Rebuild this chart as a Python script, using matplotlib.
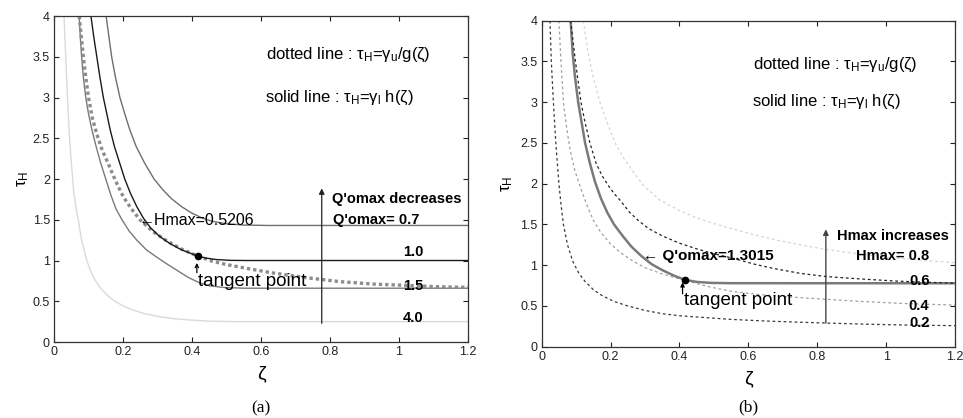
import matplotlib
matplotlib.use("Agg")
import matplotlib.pyplot as plt

plt.rcParams['font.family'] = ['Liberation Sans', 'DejaVu Sans']
plt.rcParams['mathtext.fontset'] = 'dejavusans'

# ---- panel (a): tau_H = gamma_l h(zeta) for several Q'omax, plus gamma_u/g(zeta)
q07_z = [0.151, 0.159, 0.167, 0.178, 0.191, 0.205, 0.22, 0.238, 0.262, 0.29, 0.315, 0.34,
         0.37, 0.4, 0.43, 0.46, 0.5, 0.55, 0.62, 1.2]
q07_t = [4.0, 3.75, 3.5, 3.25, 3.0, 2.8, 2.6, 2.4, 2.2, 2.0, 1.87, 1.76,
         1.66, 1.58, 1.52, 1.48, 1.45, 1.435, 1.43, 1.43]

q10_z = [0.107, 0.115, 0.124, 0.133, 0.143, 0.153, 0.163, 0.175, 0.19, 0.205, 0.222, 0.24,
         0.259, 0.28, 0.305, 0.335, 0.37, 0.395, 0.416, 0.44, 0.47, 0.51, 0.56, 1.2]
q10_t = [4.0, 3.75, 3.5, 3.25, 3.0, 2.8, 2.6, 2.4, 2.2, 2.0, 1.82, 1.66,
         1.52, 1.4, 1.3, 1.21, 1.13, 1.09, 1.055, 1.03, 1.012, 1.002, 1.0, 1.0]

q15_z = [0.073, 0.076, 0.08, 0.085, 0.092, 0.1, 0.11, 0.122, 0.135, 0.15, 0.165, 0.18,
         0.197, 0.218, 0.24, 0.268, 0.298, 0.33, 0.36, 0.39, 0.42, 0.45, 0.49, 0.55, 1.2]
q15_t = [4.0, 3.75, 3.5, 3.25, 3.0, 2.8, 2.6, 2.4, 2.2, 2.0, 1.8, 1.63,
         1.5, 1.36, 1.25, 1.13, 1.04, 0.95, 0.87, 0.79, 0.73, 0.69, 0.67, 0.66, 0.66]

q40_z = [0.029, 0.034, 0.039, 0.045, 0.052, 0.058, 0.07, 0.08, 0.095, 0.106, 0.119, 0.133,
         0.148, 0.163, 0.18, 0.205, 0.23, 0.265, 0.307, 0.35, 0.394, 0.45, 0.52, 1.2]
q40_t = [4.0, 3.5, 3.0, 2.5, 2.1, 1.8, 1.5, 1.25, 1.0, 0.87, 0.76, 0.67,
         0.6, 0.54, 0.49, 0.435, 0.39, 0.345, 0.31, 0.285, 0.27, 0.256, 0.25, 0.25]

gu_z = [0.073, 0.079, 0.085, 0.092, 0.1, 0.111, 0.124, 0.14, 0.157, 0.178, 0.201, 0.225,
        0.249, 0.285, 0.327, 0.37, 0.416, 0.46, 0.5, 0.55, 0.63, 0.73, 0.83, 0.93, 1.02, 1.1, 1.2]
gu_t = [4.0, 3.75, 3.5, 3.25, 3.0, 2.75, 2.55, 2.35, 2.19, 1.98, 1.78, 1.63,
        1.5, 1.36, 1.24, 1.14, 1.055, 0.99, 0.95, 0.91, 0.85, 0.79, 0.74, 0.71, 0.695, 0.68, 0.67]

tan_a = (0.416, 1.055)

# ---- panel (b): tau_H = gamma_u/g(zeta) for several Hmax, plus gamma_l h(zeta)
h02_z = [0.024, 0.028, 0.034, 0.041, 0.05, 0.056, 0.063, 0.075, 0.09, 0.108, 0.126, 0.15, 0.174,
         0.21, 0.25, 0.3, 0.35, 0.4, 0.465, 0.55, 0.65, 0.75, 0.827, 0.95, 1.07, 1.2]
h02_t = [4.0, 3.5, 3.0, 2.5, 2.0, 1.75, 1.5, 1.25, 1.05, 0.9, 0.8, 0.7, 0.63,
         0.555, 0.5, 0.445, 0.405, 0.38, 0.36, 0.335, 0.315, 0.3, 0.29, 0.275, 0.265, 0.258]

h04_z = [0.05, 0.056, 0.063, 0.072, 0.083, 0.097, 0.113, 0.13, 0.15, 0.172, 0.2, 0.23, 0.265,
         0.3, 0.345, 0.38, 0.416, 0.48, 0.55, 0.63, 0.735, 0.83, 0.93, 1.05, 1.2]
h04_t = [4.0, 3.5, 3.0, 2.7, 2.4, 2.15, 1.95, 1.75, 1.55, 1.4, 1.26, 1.15, 1.05,
         0.97, 0.9, 0.855, 0.815, 0.74, 0.68, 0.64, 0.606, 0.58, 0.555, 0.53, 0.51]

h06_z = [0.084, 0.098, 0.114, 0.126, 0.14, 0.158, 0.175, 0.193, 0.21, 0.227, 0.255, 0.28, 0.31,
         0.35, 0.4, 0.45, 0.5, 0.56, 0.62, 0.673, 0.75, 0.827, 0.93, 1.03, 1.12, 1.2]
h06_t = [4.0, 3.5, 3.0, 2.75, 2.5, 2.25, 2.1, 1.98, 1.88, 1.8, 1.65, 1.55, 1.45,
         1.36, 1.27, 1.2, 1.14, 1.08, 1.01, 0.96, 0.9, 0.86, 0.83, 0.805, 0.79, 0.78]

h08_z = [0.121, 0.135, 0.15, 0.169, 0.19, 0.213, 0.24, 0.265, 0.295, 0.343, 0.4, 0.45, 0.5,
         0.55, 0.62, 0.68, 0.75, 0.83, 0.92, 1.0, 1.1, 1.2]
h08_t = [4.0, 3.6, 3.3, 3.0, 2.75, 2.5, 2.3, 2.15, 1.98, 1.8, 1.67, 1.58, 1.51,
         1.45, 1.37, 1.31, 1.25, 1.19, 1.14, 1.1, 1.06, 1.03]

gl_z = [0.084, 0.09, 0.097, 0.106, 0.116, 0.126, 0.14, 0.155, 0.172, 0.19, 0.21, 0.235, 0.26,
        0.29, 0.32, 0.35, 0.385, 0.416, 0.45, 0.49, 0.55, 1.2]
gl_t = [4.0, 3.6, 3.3, 3.0, 2.75, 2.5, 2.25, 2.02, 1.82, 1.65, 1.5, 1.36, 1.23,
        1.11, 1.01, 0.94, 0.87, 0.82, 0.795, 0.783, 0.779, 0.778]

tan_b = (0.416, 0.82)

x_ticks = [0, 0.2, 0.4, 0.6, 0.8, 1.0, 1.2]
x_labels = ['0', '0.2', '0.4', '0.6', '0.8', '1', '1.2']
y_ticks = [0, 0.5, 1, 1.5, 2, 2.5, 3, 3.5, 4]
y_labels = ['0', '0.5', '1', '1.5', '2', '2.5', '3', '3.5', '4']

fig = plt.figure(figsize=(9.63, 4.18), dpi=100)
ax1 = fig.add_axes([0.0561, 0.1818, 0.4299, 0.7799])
ax2 = fig.add_axes([0.5625, 0.1706, 0.4292, 0.7799])


def frame(ax, tag, tag_y, ypad):
    ax.set_xlim(0, 1.2)
    ax.set_ylim(0, 4)
    ax.set_xticks(x_ticks)
    ax.set_xticklabels(x_labels)
    ax.set_yticks(y_ticks)
    ax.set_yticklabels(y_labels)
    ax.tick_params(direction='in', top=True, right=True, length=3.5, width=0.8,
                   labelsize=9, pad=3, colors='#222222')
    for s in ax.spines.values():
        s.set_linewidth(0.9)
        s.set_color('#333333')
    ax.set_xlabel('ζ', fontsize=14, labelpad=5)
    ax.set_ylabel(r'$\mathregular{τ_H}$', fontsize=12, labelpad=ypad)
    ax.text(0.5, tag_y, tag, transform=ax.transAxes, ha='center', va='center',
            fontsize=12.5, family='Liberation Serif')


# panel (a)
frame(ax1, '(a)', -0.205, 1)
ax1.plot(q40_z, q40_t, color='#dadada', lw=1.0)
ax1.plot(q15_z, q15_t, color='#7a7a7a', lw=1.0)
ax1.plot(q07_z, q07_t, color='#6e6e6e', lw=1.0)
ax1.plot(gu_z, gu_t, color='#8c8c8c', lw=2.4, linestyle=(0, (1, 0.9)),
         solid_capstyle='butt', dash_capstyle='butt')
ax1.plot(q10_z, q10_t, color='#1a1a1a', lw=1.0)
ax1.plot(*tan_a, 'o', color='black', ms=4.5)

ax1.annotate('', xy=(0.776, 1.885), xytext=(0.776, 0.23),
             arrowprops=dict(arrowstyle='-|>', color='#222222', lw=0.9,
                             mutation_scale=8, shrinkA=0, shrinkB=0))
ax1.annotate('', xy=(0.414, 0.97), xytext=(0.414, 0.85),
             arrowprops=dict(arrowstyle='->', color='black', lw=0.9,
                             mutation_scale=6, shrinkA=0, shrinkB=0))

ax1.text(0.614, 3.52, r'dotted line : $\mathregular{τ_H}$=$\mathregular{γ_u}$/g(ζ)',
         fontsize=12, ha='left', va='center')
ax1.text(0.612, 3.0, r'solid line : $\mathregular{τ_H}$=$\mathregular{γ_l}$ h(ζ)',
         fontsize=12, ha='left', va='center')
ax1.text(0.807, 1.76, "Q'omax decreases", fontsize=10.5, weight='bold', ha='left', va='center')
ax1.text(0.81, 1.5, "Q'omax= 0.7", fontsize=10.5, weight='bold', ha='left', va='center')
ax1.text(1.04, 1.11, '1.0', fontsize=10.5, weight='bold', ha='center', va='center')
ax1.text(1.04, 0.69, '1.5', fontsize=10.5, weight='bold', ha='center', va='center')
ax1.text(1.04, 0.30, '4.0', fontsize=10.5, weight='bold', ha='center', va='center')
ax1.text(0.247, 1.49, '←Hmax=0.5206', fontsize=11.5, ha='left', va='center')
ax1.text(0.417, 0.74, 'tangent point', fontsize=13.5, ha='left', va='center')

# panel (b)
frame(ax2, '(b)', -0.185, 4)
dash = (0, (2.2, 2.2))
ax2.plot(h08_z, h08_t, color='#d4d4d4', lw=0.9, linestyle=dash)
ax2.plot(h04_z, h04_t, color='#a0a0a0', lw=0.9, linestyle=dash)
ax2.plot(h02_z, h02_t, color='#3a3a3a', lw=0.9, linestyle=dash)
ax2.plot(gl_z, gl_t, color='#7a7a7a', lw=1.8)
ax2.plot(h06_z, h06_t, color='#222222', lw=0.9, linestyle=dash)
ax2.plot(*tan_b, 'o', color='black', ms=4.5)

ax2.annotate('', xy=(0.825, 1.44), xytext=(0.825, 0.29),
             arrowprops=dict(arrowstyle='-|>', color='#444444', lw=1.0,
                             mutation_scale=8, shrinkA=0, shrinkB=0))
ax2.annotate('', xy=(0.409, 0.79), xytext=(0.409, 0.65),
             arrowprops=dict(arrowstyle='-|>', color='black', lw=0.9,
                             mutation_scale=6, shrinkA=0, shrinkB=0))

ax2.text(0.613, 3.46, r'dotted line : $\mathregular{τ_H}$=$\mathregular{γ_u}$/g(ζ)',
         fontsize=12, ha='left', va='center')
ax2.text(0.610, 3.0, r'solid line : $\mathregular{τ_H}$=$\mathregular{γ_l}$ h(ζ)',
         fontsize=12, ha='left', va='center')
ax2.text(0.858, 1.36, 'Hmax increases', fontsize=10.5, weight='bold', ha='left', va='center')
ax2.text(1.019, 1.11, 'Hmax= 0.8', fontsize=10.5, weight='bold', ha='center', va='center')
ax2.text(1.096, 0.80, '0.6', fontsize=10.5, weight='bold', ha='center', va='center')
ax2.text(1.096, 0.50, '0.4', fontsize=10.5, weight='bold', ha='center', va='center')
ax2.text(1.096, 0.29, '0.2', fontsize=10.5, weight='bold', ha='center', va='center')
ax2.text(0.295, 1.11, "← Q'omax=1.3015", fontsize=11, weight='bold', ha='left', va='center')
ax2.text(0.414, 0.57, 'tangent point', fontsize=13.5, ha='left', va='center')

fig.savefig('out.png', dpi=100)
